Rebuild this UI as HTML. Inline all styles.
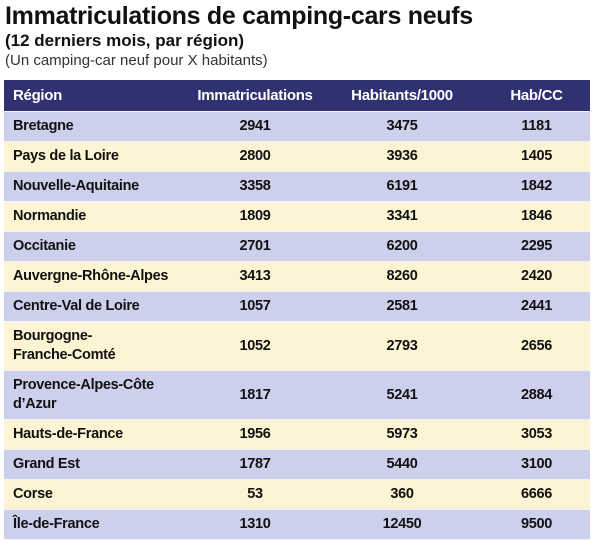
<!DOCTYPE html>
<html><head><meta charset="utf-8"><style>
body{margin:0;width:600px;height:549px;background:#fff;font-family:"Liberation Sans",sans-serif;color:#111;position:relative;overflow:hidden}
.t1{position:absolute;left:5px;top:2px;font-size:25px;font-weight:bold;letter-spacing:-0.3px}
.t2{position:absolute;left:5px;top:31px;font-size:17px;font-weight:bold}
.t3{position:absolute;left:5px;top:52px;font-size:15px;color:#333}
table{position:absolute;left:4px;top:80px;width:586px;border-collapse:collapse;font-size:14.5px;font-weight:bold;letter-spacing:-0.3px;table-layout:fixed}
td,th{padding:0;text-align:center;border-bottom:1px solid #f4f4f8}
th{background:#2f3170;color:#fff;height:31px;font-size:15px}
th:first-child,td:first-child{text-align:left;padding-left:9px}
th:last-child,td:last-child{padding-left:20px}
tr.a td{background:#cdd0ec}
tr.b td{background:#fdf4d3}
td{height:29px;line-height:19px}
tr.d td{height:48px}
</style></head><body>
<div class="t1">Immatriculations de camping-cars neufs</div>
<div class="t2">(12 derniers mois, par région)</div>
<div class="t3">(Un camping-car neuf pour X habitants)</div>
<table>
<colgroup><col style="width:165px"><col style="width:172px"><col style="width:122px"><col style="width:127px"></colgroup>
<tr><th>Région</th><th>Immatriculations</th><th>Habitants/1000</th><th>Hab/CC</th></tr>
<tr class="a"><td>Bretagne</td><td>2941</td><td>3475</td><td>1181</td></tr>
<tr class="b"><td>Pays de la Loire</td><td>2800</td><td>3936</td><td>1405</td></tr>
<tr class="a"><td>Nouvelle-Aquitaine</td><td>3358</td><td>6191</td><td>1842</td></tr>
<tr class="b"><td>Normandie</td><td>1809</td><td>3341</td><td>1846</td></tr>
<tr class="a"><td>Occitanie</td><td>2701</td><td>6200</td><td>2295</td></tr>
<tr class="b"><td>Auvergne-Rhône-Alpes</td><td>3413</td><td>8260</td><td>2420</td></tr>
<tr class="a"><td>Centre-Val de Loire</td><td>1057</td><td>2581</td><td>2441</td></tr>
<tr class="b d"><td>Bourgogne-<br>Franche-Comté</td><td>1052</td><td>2793</td><td>2656</td></tr>
<tr class="a d"><td>Provence-Alpes-Côte<br>d’Azur</td><td>1817</td><td>5241</td><td>2884</td></tr>
<tr class="b"><td>Hauts-de-France</td><td>1956</td><td>5973</td><td>3053</td></tr>
<tr class="a"><td>Grand Est</td><td>1787</td><td>5440</td><td>3100</td></tr>
<tr class="b"><td>Corse</td><td>53</td><td>360</td><td>6666</td></tr>
<tr class="a"><td>Île-de-France</td><td>1310</td><td>12450</td><td>9500</td></tr>
</table>
</body></html>
